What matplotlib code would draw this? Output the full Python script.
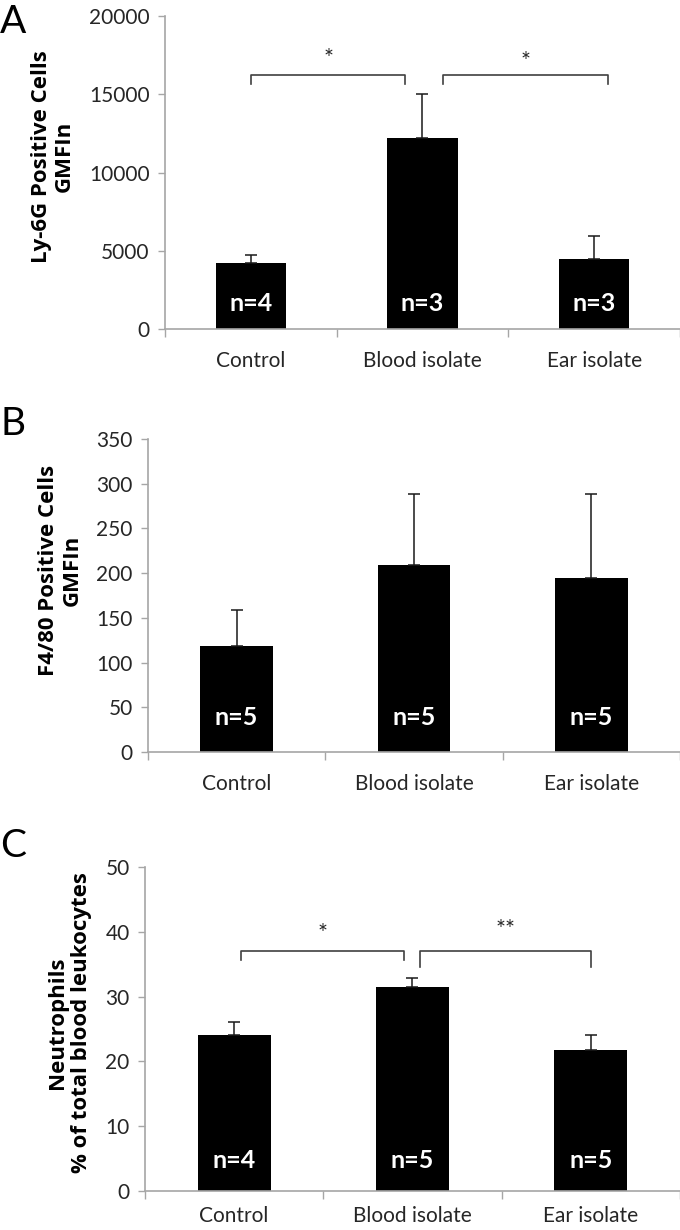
import matplotlib
matplotlib.use("Agg")
import matplotlib.pyplot as plt

groups = ["Control", "Blood isolate", "Ear isolate"]

ly6g_mean = [4200, 12200, 4450]
ly6g_err = [550, 2800, 1500]
ly6g_n = ["n=4", "n=3", "n=3"]

f480_mean = [119, 209, 195]
f480_err = [40, 80, 94]
f480_n = ["n=5", "n=5", "n=5"]

neut_mean = [24.0, 31.5, 21.8]
neut_err = [2.1, 1.4, 2.3]
neut_n = ["n=4", "n=5", "n=5"]

thin = "Lato"
bold = "Open Sans"

axis_grey = "#a6a6a6"
text_grey = "#262626"


def panel(ax, means, errs, ns, ymax, ystep, ylabel, n_y, label_y,
          xpad=16, brackets=None):
    x = range(len(groups))
    ax.bar(x, means, width=0.41, color="black", zorder=2)
    ax.errorbar(x, means, yerr=[[0] * len(errs), errs], fmt="none",
                ecolor="#1a1a1a", elinewidth=1.1, capsize=4, capthick=1.1, zorder=3)
    for i, lab in enumerate(ns):
        ax.text(i, n_y, lab, color="white", ha="center", va="center",
                fontsize=18, family=thin, fontweight="bold", zorder=4)
    ax.set_xlim(-0.5, 2.5)
    ax.set_ylim(0, ymax)
    ax.set_yticks([v * ystep for v in range(int(ymax / ystep) + 1)])
    ax.set_xticks(list(x))
    ax.set_xticklabels(groups, family=thin, fontsize=15, color=text_grey)
    ax.set_xticks([-0.5, 0.5, 1.5, 2.5], minor=True)
    ax.tick_params(axis="x", which="major", length=0, pad=xpad)
    ax.tick_params(axis="x", which="minor", length=6, color=axis_grey, width=1)
    ax.tick_params(axis="y", length=5, color=axis_grey, width=1, pad=6)
    for t in ax.get_yticklabels():
        t.set_family(thin)
        t.set_fontsize(15)
        t.set_color(text_grey)
    for s in ["top", "right"]:
        ax.spines[s].set_visible(False)
    for s in ["left", "bottom"]:
        ax.spines[s].set_color(axis_grey)
        ax.spines[s].set_linewidth(1.2)
    ax.set_ylabel(ylabel, family=bold, fontweight="bold", fontsize=16,
                  linespacing=1.15, labelpad=10)
    ax.yaxis.label.set_y(label_y)
    if brackets:
        for x0, x1, yb, drop0, drop1, star, ys in brackets:
            ax.plot([x0, x0, x1, x1], [drop0, yb, yb, drop1], color="#404040",
                    lw=1.2, clip_on=False, zorder=3)
            ax.text((x0 + x1) / 2, ys, star, ha="center", va="center",
                    fontsize=17, family=thin, color=text_grey)


fig = plt.figure(figsize=(6.8, 12.3), dpi=100)

axA = fig.add_axes([0.2426, 0.7325, 0.7574, 0.2545])
panel(axA, ly6g_mean, ly6g_err, ly6g_n, 20000, 5000,
      "Ly-6G Positive Cells\nGMFIn", 1650, 0.55,
      brackets=[(0.0, 0.9, 16200, 15650, 15650, "*", 17300),
                (1.12, 2.08, 16200, 15650, 15650, "*", 17100)])

axB = fig.add_axes([0.2176, 0.3886, 0.7824, 0.2545])
panel(axB, f480_mean, f480_err, f480_n, 350, 50,
      "F4/80 Positive Cells\nGMFIn", 39, 0.58)

axC = fig.add_axes([0.2132, 0.0317, 0.7868, 0.2634])
panel(axC, neut_mean, neut_err, neut_n, 50, 10,
      "Neutrophils\n% of total blood leukocytes", 4.7, 0.52, xpad=11,
      brackets=[(0.04, 0.95, 37.0, 35.6, 35.6, "*", 39.8),
                (1.04, 2.0, 37.0, 34.6, 34.6, "**", 40.4)])

for lab, y in [("A", 0.982), ("B", 0.655), ("C", 0.312)]:
    fig.text(0.0, y, lab, fontsize=28, family=thin, fontweight="normal",
             va="center", ha="left", color="black")

fig.savefig("out.png", dpi=100)
